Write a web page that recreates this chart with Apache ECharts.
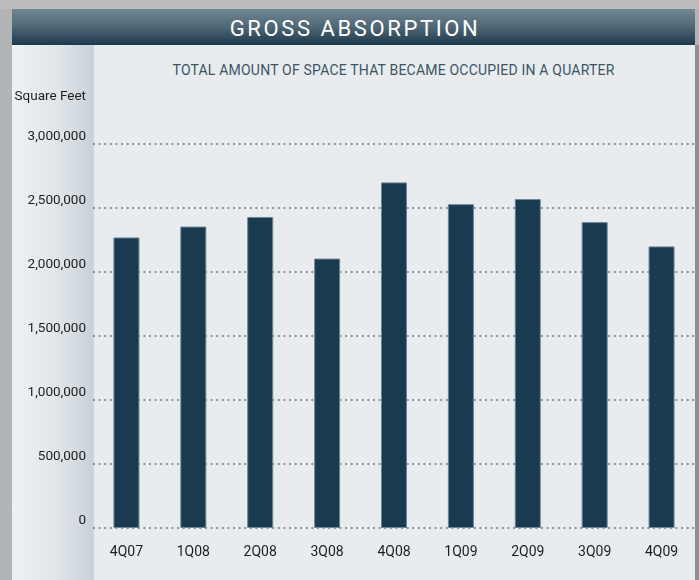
<!DOCTYPE html>
<html>
<head>
<meta charset="utf-8">
<script src="https://cdn.jsdelivr.net/npm/echarts@6/dist/echarts.min.js"></script>
<style>
  html, body { margin: 0; padding: 0; }
  body { width: 699px; height: 580px; position: relative; overflow: hidden; background: #b3b4b6; }
  .top-band { position: absolute; left: 0; top: 0; width: 699px; height: 9px; background: #bcbcbc; }
  .panel { position: absolute; left: 12px; top: 45px; width: 683px; height: 535px; background: #e8ecef; }
  .left-strip { position: absolute; left: 12px; top: 45px; width: 82px; height: 535px;
    background: linear-gradient(to right, #eef1f3, #e3e7ea 50%, #c9d2d9); }
  .right-edge { position: absolute; left: 695px; top: 45px; width: 4px; height: 535px; background: #8d8e90; }
  .title-bar { position: absolute; left: 12px; top: 9px; width: 683px; height: 36px;
    background: linear-gradient(to bottom, #728791, #4f6775 50%, #1c394d);
    color: #fff; font-family: Roboto, sans-serif;
    font-size: 22px; letter-spacing: 2.6px; text-align: center; line-height: 36px;
    padding-top: 2px; padding-left: 3px; box-sizing: border-box; }
  .subtitle { position: absolute; left: 12px; width: 683px; top: 62px; text-align: center;
    font-family: Roboto, sans-serif;
    font-size: 14px; letter-spacing: 0.2px; color: #3c5566; padding-left: 80px; box-sizing: border-box; }
  #chart { position: absolute; left: 0; top: 0; width: 699px; height: 580px; }
</style>
</head>
<body>
<div class="top-band"></div>
<div class="panel"></div>
<div class="left-strip"></div>
<div class="right-edge"></div>
<div class="title-bar">GROSS ABSORPTION</div>
<div class="subtitle">TOTAL AMOUNT OF SPACE THAT BECAME OCCUPIED IN A QUARTER</div>
<div id="chart"></div>
<script>
// quarters on the x axis
const quarters = ["4Q07", "1Q08", "2Q08", "3Q08", "4Q08", "1Q09", "2Q09", "3Q09", "4Q09"];
// gross absorption, square feet
const absorption = [2270000, 2355000, 2430000, 2105000, 2700000, 2530000, 2570000, 2390000, 2200000];
const yMin = 0;
const yMax = 3000000;
const yStep = 500000;

const chart = echarts.init(document.getElementById("chart"));
const labelFont = "Roboto, sans-serif";

chart.setOption({
  animation: false,
  grid: { left: 93, right: 4, top: 144, bottom: 52 },
  xAxis: {
    type: "category",
    data: quarters,
    axisLine: { show: false },
    axisTick: { show: false },
    axisLabel: { color: "#1e1e1e", fontFamily: labelFont, fontSize: 14, margin: 17 },
  },
  yAxis: {
    type: "value",
    min: yMin,
    max: yMax,
    interval: yStep,
    name: "Square Feet",
    nameGap: 40,
    nameTextStyle: { color: "#1e1e1e", fontFamily: labelFont, fontSize: 13.5, align: "right", padding: [0, 7, 0, 0] },
    axisLine: { show: false },
    axisTick: { show: false },
    axisLabel: {
      color: "#1e1e1e",
      fontFamily: labelFont,
      fontSize: 13.5,
      margin: 7,
      verticalAlign: "bottom",
      formatter: (v) => v.toLocaleString("en-US"),
    },
    splitLine: {
      lineStyle: { color: "#8197a4", width: 2, type: [2, 3.6] },
    },
  },
  series: [
    {
      type: "bar",
      data: absorption,
      barWidth: 26,
      itemStyle: { color: "#1a3a50", borderColor: "#6d8594", borderWidth: 1 },
    },
  ],
});
</script>
</body>
</html>
